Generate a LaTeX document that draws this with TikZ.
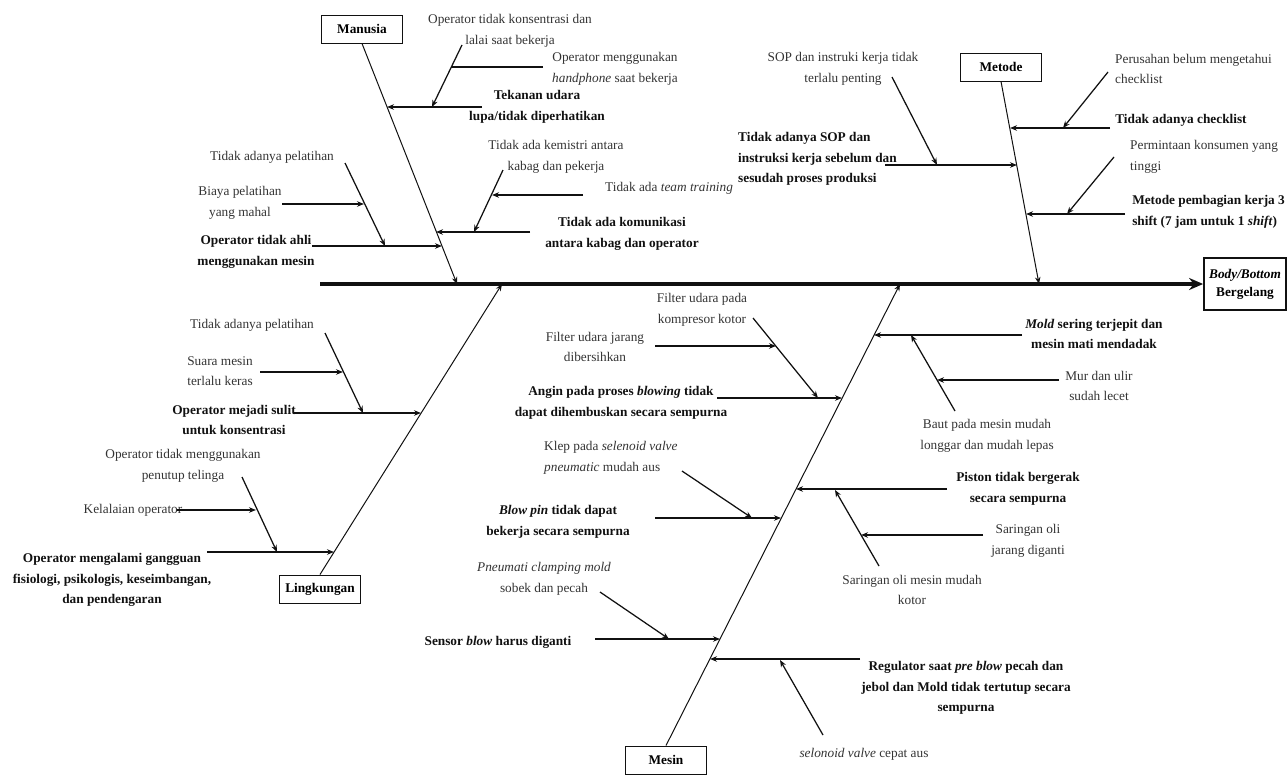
\documentclass[tikz,border=0pt]{standalone}
\usepackage{fontspec}
\setmainfont{Liberation Serif}
\usepackage{tikz}
\usetikzlibrary{arrows.meta,positioning}
\definecolor{inkc}{HTML}{111111}
\definecolor{txtc}{HTML}{333333}
\tikzset{
  ar/.style={-{Stealth[length=7pt,width=5.5pt]},line width=1.25pt,inkc},
  ln/.style={line width=1.25pt,inkc},
  bone/.style={-{Stealth[length=7pt,width=5.5pt]},line width=1pt,inkc},
  cat/.style={draw=inkc,line width=1pt,font=\fontsize{13.3}{15}\selectfont\bfseries,minimum width=81pt,minimum height=28pt,inner sep=2pt},
  lab/.style={font=\fontsize{13.3}{20.5}\selectfont,text=txtc,align=center,inner sep=0pt},
  blab/.style={lab,text=inkc,font=\fontsize{13.3}{20.5}\selectfont\bfseries}
}
\begin{document}
\begin{tikzpicture}[x=1pt,y=-1pt]
\useasboundingbox (0,0) rectangle (1288,774);
% head and spine
\node[draw=inkc,line width=1.8pt,align=center,font=\fontsize{13.3}{18}\selectfont\bfseries,minimum width=82pt,minimum height=52pt,inner sep=2pt] (eff) at (1245,284) {\textit{Body/Bottom}\\Bergelang};
\coordinate (tail) at (320,284);
\draw[line width=3.6pt,inkc,-{Stealth[length=14pt,width=12pt]}] (tail) -- (eff.west);
% main bones
\node[cat] (man) at (362,29) {Manusia};
\node[cat] (met) at (1001,67) {Metode};
\node[cat] (lin) at (320,589) {Lingkungan};
\node[cat] (mes) at (666,760) {Mesin};
\path (457,284) coordinate (manS) (1039,284) coordinate (metS)
      (502,284) coordinate (linS) (900,284) coordinate (mesS);
\draw[bone] (man.south) -- (manS);
\draw[bone] (met.south) -- (metS);
\draw[bone] (lin.north) -- (linS);
\draw[bone] (mes.north) -- (mesS);

% Manusia
\node[blab] (m1) at (537,107) {Tekanan udara\\lupa/tidak diperhatikan};
\path (482,107) coordinate (m1a) (387,107) coordinate (m1b);
\draw[ar] (m1a) -- (m1b);
\node[lab] (m1x) at (510,31) {Operator tidak konsentrasi dan\\lalai saat bekerja};
\path (462,45) coordinate (m1xa) (432,107) coordinate (m1xb);
\draw[ar] (m1xa) -- (m1xb);
\node[lab] (m1y) at (615,69) {Operator menggunakan\\\textit{handphone} saat bekerja};
\path (543,67) coordinate (m1ya) (451,67) coordinate (m1yb);
\draw[ln] (m1ya) -- (m1yb);
\node[blab] (m2) at (622,234) {Tidak ada komunikasi\\antara kabag dan operator};
\path (530,232) coordinate (m2a) (436,232) coordinate (m2b);
\draw[ar] (m2a) -- (m2b);
\node[lab] (m2x) at (556,157) {Tidak ada kemistri antara\\kabag dan pekerja};
\path (503,170) coordinate (m2xa) (474,232) coordinate (m2xb);
\draw[ar] (m2xa) -- (m2xb);
\node[lab,anchor=west] (m2y) at (605,188) {Tidak ada \textit{team training}};
\path (583,195) coordinate (m2ya) (492,195) coordinate (m2yb);
\draw[ar] (m2ya) -- (m2yb);
\node[blab] (m3) at (256,252) {Operator tidak ahli\\menggunakan mesin};
\path (312,246) coordinate (m3a) (442,246) coordinate (m3b);
\draw[ar] (m3a) -- (m3b);
\node[lab] (m3x) at (272,157) {Tidak adanya pelatihan};
\path (345,163) coordinate (m3xa) (385,246) coordinate (m3xb);
\draw[ar] (m3xa) -- (m3xb);
\node[lab] (m3y) at (240,203) {Biaya pelatihan\\yang mahal};
\path (282,204) coordinate (m3ya) (364,204) coordinate (m3yb);
\draw[ar] (m3ya) -- (m3yb);

% Metode
\node[blab] (t1) at (1181,120) {Tidak adanya checklist};
\path (1110,128) coordinate (t1a) (1010,128) coordinate (t1b);
\draw[ar] (t1a) -- (t1b);
\node[lab,align=left,anchor=west] (t1x) at (1115,69) {Perusahan belum mengetahui\\checklist};
\path (1108,72) coordinate (t1xa) (1063,128) coordinate (t1xb);
\draw[ar] (t1xa) -- (t1xb);
\node[blab,align=left,anchor=east] (t2) at (1285,212) {Metode pembagian kerja 3\\shift (7 jam untuk 1 \textit{shift})};
\path (1125,214) coordinate (t2a) (1026,214) coordinate (t2b);
\draw[ar] (t2a) -- (t2b);
\node[lab,align=left,anchor=west] (t2x) at (1130,157) {Permintaan konsumen yang\\tinggi};
\path (1114,157) coordinate (t2xa) (1067,214) coordinate (t2xb);
\draw[ar] (t2xa) -- (t2xb);
\node[blab,align=left,anchor=west] (t3) at (738,159) {Tidak adanya SOP dan\\instruksi kerja sebelum dan\\sesudah proses produksi};
\path (885,165) coordinate (t3a) (1017,165) coordinate (t3b);
\draw[ar] (t3a) -- (t3b);
\node[lab] (t3x) at (843,69) {SOP dan instruki kerja tidak\\terlalu penting};
\path (892,77) coordinate (t3xa) (937,165) coordinate (t3xb);
\draw[ar] (t3xa) -- (t3xb);

% Lingkungan
\node[blab] (l1) at (234,420) {Operator mejadi sulit\\untuk konsentrasi};
\path (293,413) coordinate (l1a) (421,413) coordinate (l1b);
\draw[ar] (l1a) -- (l1b);
\node[lab] (l1x) at (252,325) {Tidak adanya pelatihan};
\path (325,333) coordinate (l1xa) (363,413) coordinate (l1xb);
\draw[ar] (l1xa) -- (l1xb);
\node[lab] (l1y) at (220,371) {Suara mesin\\terlalu keras};
\path (260,372) coordinate (l1ya) (343,372) coordinate (l1yb);
\draw[ar] (l1ya) -- (l1yb);
\node[blab] (l2) at (112,580) {Operator mengalami gangguan\\fisiologi, psikologis, keseimbangan,\\dan pendengaran};
\path (207,552) coordinate (l2a) (334,552) coordinate (l2b);
\draw[ar] (l2a) -- (l2b);
\node[lab] (l2x) at (183,466) {Operator tidak menggunakan\\penutup telinga};
\path (242,477) coordinate (l2xa) (277,552) coordinate (l2xb);
\draw[ar] (l2xa) -- (l2xb);
\node[lab] (l2y) at (133,510) {Kelalaian operator};
\path (177,510) coordinate (l2ya) (256,510) coordinate (l2yb);
\draw[ar] (l2ya) -- (l2yb);

% Mesin
\node[blab] (s1) at (621,403) {Angin pada proses \textit{blowing} tidak\\dapat dihembuskan secara sempurna};
\path (717,398) coordinate (s1a) (842,398) coordinate (s1b);
\draw[ar] (s1a) -- (s1b);
\node[lab] (s1x) at (702,310) {Filter udara pada\\kompresor kotor};
\path (753,318) coordinate (s1xa) (818,398) coordinate (s1xb);
\draw[ar] (s1xa) -- (s1xb);
\node[lab] (s1y) at (595,347) {Filter udara jarang\\dibersihkan};
\path (655,346) coordinate (s1ya) (776,346) coordinate (s1yb);
\draw[ar] (s1ya) -- (s1yb);
\node[blab] (s2) at (558,522) {\textit{Blow pin} tidak dapat\\bekerja secara sempurna};
\path (655,518) coordinate (s2a) (781,518) coordinate (s2b);
\draw[ar] (s2a) -- (s2b);
\node[lab,align=left,anchor=west] (s2x) at (544,458) {Klep pada \textit{selenoid valve}\\\textit{pneumatic} mudah aus};
\path (682,471) coordinate (s2xa) (752,518) coordinate (s2xb);
\draw[ar] (s2xa) -- (s2xb);
\node[blab] (s3) at (498,642) {Sensor \textit{blow} harus diganti};
\path (595,639) coordinate (s3a) (720,639) coordinate (s3b);
\draw[ar] (s3a) -- (s3b);
\node[lab] (s3x) at (544,579) {\textit{Pneumati clamping mold}\\sobek dan pecah};
\path (600,592) coordinate (s3xa) (669,639) coordinate (s3xb);
\draw[ar] (s3xa) -- (s3xb);
\node[blab] (s4) at (1094,334) {\textit{Mold} sering terjepit dan\\mesin mati mendadak};
\path (1022,335) coordinate (s4a) (874,335) coordinate (s4b);
\draw[ar] (s4a) -- (s4b);
\node[lab] (s4x) at (987,436) {Baut pada mesin mudah\\longgar dan mudah lepas};
\path (955,411) coordinate (s4xa) (911,335) coordinate (s4xb);
\draw[ar] (s4xa) -- (s4xb);
\node[lab] (s4y) at (1099,386) {Mur dan ulir\\sudah lecet};
\path (1059,380) coordinate (s4ya) (937,380) coordinate (s4yb);
\draw[ar] (s4ya) -- (s4yb);
\node[blab] (s5) at (1018,489) {Piston tidak bergerak\\secara sempurna};
\path (947,489) coordinate (s5a) (796,489) coordinate (s5b);
\draw[ar] (s5a) -- (s5b);
\node[lab] (s5x) at (1028,541) {Saringan oli\\jarang diganti};
\path (983,535) coordinate (s5xa) (861,535) coordinate (s5xb);
\draw[ar] (s5xa) -- (s5xb);
\node[lab] (s5y) at (912,590) {Saringan oli mesin mudah\\kotor};
\path (879,566) coordinate (s5ya) (835,490) coordinate (s5yb);
\draw[ar] (s5ya) -- (s5yb);
\node[blab] (s6) at (966,688) {Regulator saat \textit{pre blow} pecah dan\\jebol dan Mold tidak tertutup secara\\sempurna};
\path (860,659) coordinate (s6a) (710,659) coordinate (s6b);
\draw[ar] (s6a) -- (s6b);
\node[lab] (s6x) at (864,754) {\textit{selonoid valve} cepat aus};
\path (823,735) coordinate (s6xa) (780,660) coordinate (s6xb);
\draw[ar] (s6xa) -- (s6xb);
\end{tikzpicture}
\end{document}
